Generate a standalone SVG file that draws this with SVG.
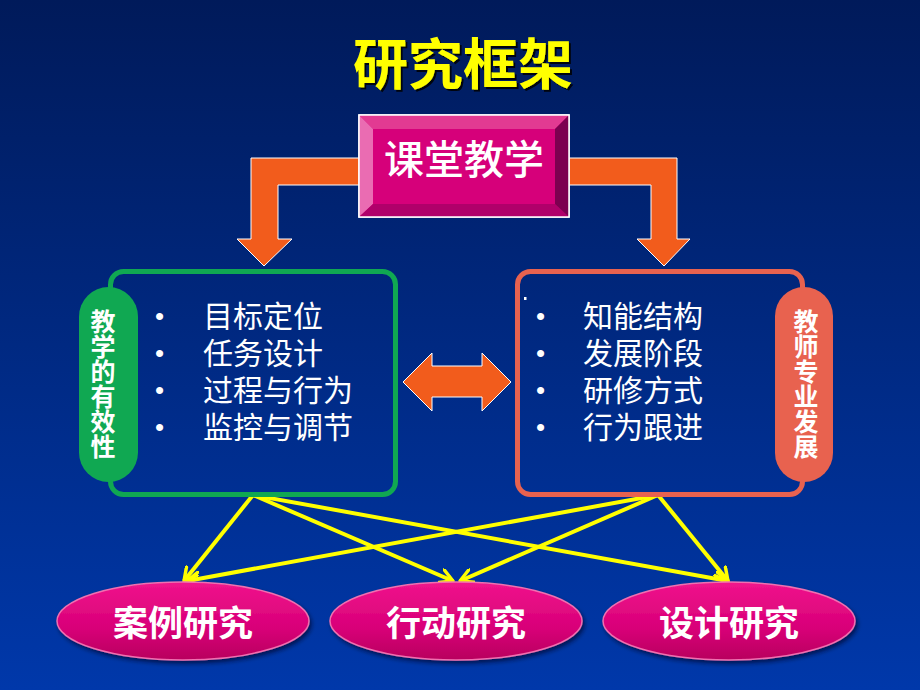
<svg xmlns="http://www.w3.org/2000/svg" width="920" height="690" viewBox="0 0 920 690">
<defs>
<linearGradient id="bg" x1="0" y1="0" x2="0" y2="1">
<stop offset="0" stop-color="#001a5a"/>
<stop offset="1" stop-color="#0038aa"/>
</linearGradient>
<linearGradient id="ell" x1="0" y1="0" x2="0" y2="1">
<stop offset="0" stop-color="#f0148c"/>
<stop offset="0.6" stop-color="#d80078"/>
<stop offset="1" stop-color="#b8005e"/>
</linearGradient>
<filter id="sh" x="-10%" y="-10%" width="120%" height="130%">
<feDropShadow dx="2" dy="3" stdDeviation="2" flood-color="#000020" flood-opacity="0.6"/>
</filter>
<filter id="tsh" x="-10%" y="-10%" width="120%" height="130%">
<feDropShadow dx="2" dy="2" stdDeviation="0.5" flood-color="#000000" flood-opacity="0.85"/>
</filter>
<marker id="ah" viewBox="0 0 14 14" refX="12" refY="7" markerWidth="16" markerHeight="16" markerUnits="userSpaceOnUse" orient="auto">
<path d="M1,1 L12,7 L1,13" fill="none" stroke="#ffff00" stroke-width="3" stroke-linecap="round" stroke-linejoin="round"/>
</marker>
<style>
.cjk{font-family:"Noto Sans CJK SC","Noto Sans",sans-serif;}
.title{font-size:55px;font-weight:bold;fill:#ffff00;}
.head{font-size:40px;font-weight:500;fill:#ffffff;}
.item{font-size:30px;fill:#ffffff;font-family:"Liberation Sans","Noto Sans CJK SC",sans-serif;}
.bul{font-size:26px;fill:#ffffff;font-family:"Liberation Sans",sans-serif;}
.vt{font-size:25px;font-weight:bold;fill:#ffffff;writing-mode:vertical-rl;text-orientation:upright;}
.et{font-size:35px;font-weight:bold;fill:#ffffff;text-anchor:middle;}
.orange{fill:#f25c1c;stroke:#ffffff;stroke-width:1;}
.yl{stroke:#ffff00;stroke-width:4;fill:none;marker-end:url(#ah);}
.ellipse{fill:url(#ell);stroke:#f070b0;stroke-width:1.5;}
</style>
</defs>
<rect x="0" y="0" width="920" height="690" fill="url(#bg)"/>

<g id="title">
<text class="cjk title" x="463" y="84" text-anchor="middle" filter="url(#tsh)">研究框架</text>
</g>

<g id="connectors">
<path class="orange" d="M362,158 L251,158 L251,239 L237,239 L264,266 L292,239 L278,239 L278,185 L362,185 Z"/>
<path class="orange" d="M567,158 L677,158 L677,239 L690,239 L664,266 L637,239 L651,239 L651,185 L567,185 Z"/>
<path class="orange" d="M403,382 L432,353 L432,366 L482,366 L482,353 L511,382 L482,411 L482,397 L432,397 L432,411 Z"/>
<line class="yl" x1="253" y1="495" x2="184" y2="581"/>
<line class="yl" x1="253" y1="495" x2="453" y2="581"/>
<line class="yl" x1="253" y1="495" x2="728" y2="581"/>
<line class="yl" x1="658" y1="495" x2="187" y2="581"/>
<line class="yl" x1="658" y1="495" x2="460" y2="581"/>
<line class="yl" x1="658" y1="495" x2="728" y2="581"/>
</g>

<g id="classroom">
<rect x="359" y="115" width="210" height="102" fill="#d6007a" stroke="#ffffff" stroke-width="1.5"/>
<polygon points="359,115 569,115 555,129 373,129" fill="#e23a92"/>
<polygon points="359,115 373,129 373,204 359,217" fill="#ea6cb2"/>
<polygon points="359,217 373,204 555,204 569,217" fill="#b0006a"/>
<polygon points="569,115 569,217 555,204 555,129" fill="#7c0050"/>
<rect x="373" y="129" width="182" height="75" fill="#d6007a"/>
<rect x="359" y="115" width="210" height="102" fill="none" stroke="#ffffff" stroke-width="1.5"/>
<text class="cjk head" x="464" y="174" text-anchor="middle">课堂教学</text>
</g>

<g id="left-box">
<rect x="110.5" y="271.5" width="285" height="223" rx="13" fill="none" stroke="#10a852" stroke-width="5"/>
<rect x="79" y="287" width="59" height="195" rx="29.5" fill="#10a852"/>
<text class="cjk vt" x="103" y="309">教学的有效性</text>
<text class="bul" x="155" y="325">•</text>
<text class="bul" x="155" y="362">•</text>
<text class="bul" x="155" y="399">•</text>
<text class="bul" x="155" y="436">•</text>
<text class="item" x="203" y="327">目标定位</text>
<text class="item" x="203" y="364">任务设计</text>
<text class="item" x="203" y="401">过程与行为</text>
<text class="item" x="203" y="438">监控与调节</text>
</g>

<g id="right-box">
<rect x="517.5" y="271.5" width="285" height="223" rx="13" fill="none" stroke="#e8624f" stroke-width="5"/>
<rect x="775" y="287" width="58" height="195" rx="29" fill="#e8624f"/>
<rect x="524" y="297" width="2.5" height="3" fill="#ffffff"/>
<text class="cjk vt" x="806" y="309">教师专业发展</text>
<text class="bul" x="536" y="325">•</text>
<text class="bul" x="536" y="362">•</text>
<text class="bul" x="536" y="399">•</text>
<text class="bul" x="536" y="436">•</text>
<text class="item" x="583" y="327">知能结构</text>
<text class="item" x="583" y="364">发展阶段</text>
<text class="item" x="583" y="401">研修方式</text>
<text class="item" x="583" y="438">行为跟进</text>
</g>

<g id="case-study">
<ellipse class="ellipse" cx="183" cy="621" rx="126" ry="39" filter="url(#sh)"/>
<text class="cjk et" x="183" y="636">案例研究</text>
</g>
<g id="action-study">
<ellipse class="ellipse" cx="456" cy="621" rx="126" ry="39" filter="url(#sh)"/>
<text class="cjk et" x="456" y="636">行动研究</text>
</g>
<g id="design-study">
<ellipse class="ellipse" cx="729" cy="621" rx="126" ry="39" filter="url(#sh)"/>
<text class="cjk et" x="729" y="636">设计研究</text>
</g>
</svg>
